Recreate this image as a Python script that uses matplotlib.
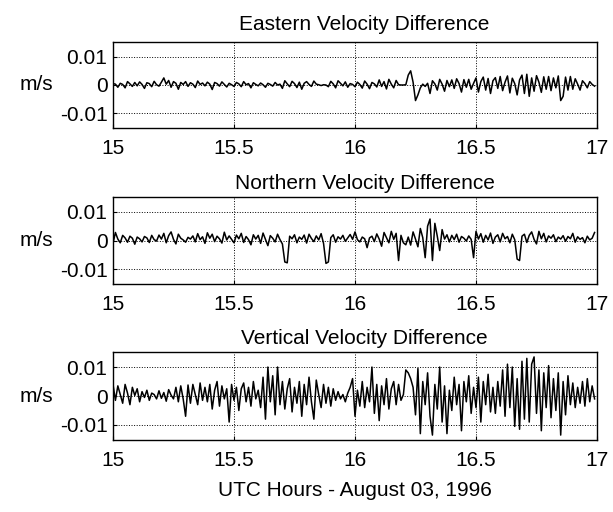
import numpy as np
import matplotlib
matplotlib.use("Agg")
import matplotlib.pyplot as plt

plt.rcParams['font.family'] = ['Liberation Sans', 'DejaVu Sans']

titles = ["Eastern Velocity Difference", "Northern Velocity Difference", "Vertical Velocity Difference"]
xlabel_text = "UTC Hours - August 03, 1996"
ylabel_text = "m/s"
xticks = [15, 15.5, 16, 16.5, 17]
xtick_labels = ["15", "15.5", "16", "16.5", "17"]
yticks = [-0.01, 0, 0.01]
ytick_labels = ["-0.01", "0", "0.01"]

# velocity differences in mm/s, sampled every 0.01 h from 15.00 to 16.99
east_mm = [
    0.5, 0.3, -0.8, 0.6, 0.2, -1.0, 1.2, 0.4, -0.5, 0.9,
    -0.3, 1.1, 0.2, -1.2, 0.8, 0.5, -0.6, 1.3, 0.1, -0.4,
    1.0, 2.5, 0.3, 1.6, -0.8, 1.2, 0.6, -1.5, 0.9, 0.2,
    1.2, -0.5, 0.8, 0.3, -0.9, 1.4, 0.2, 0.7, -0.3, 1.0,
    0.3, -1.6, 0.9, 0.5, -0.4, 1.1, 0.2, -0.7, 0.6, 0.1,
    -0.5, 0.9, 0.4, -0.6, 1.2, 0.1, 0.5, -1.0, 0.8, 0.2,
    -0.3, 0.7, 0.1, -0.8, 0.6, 0.2, -0.4, 0.9, 0.0, 0.3,
    -1.2, 1.5, 0.4, -0.6, 1.3, 0.5, -0.9, 1.0, -1.5, 0.6,
    1.2, 0.2, -0.5, 1.4, 0.3, 0.1, -0.2, 0.1, 0.0, -0.6,
    1.3, 0.4, -1.0, 1.5, 0.6, -0.3, 1.1, -0.8, 0.5, 0.2,
    -0.6, 1.0, 0.2, -1.1, 1.4, 0.3, -1.3, 0.9, 0.4, -0.7,
    1.8, -0.5, 1.2, -1.4, 2.0, 0.3, -1.0, 1.6, 0.1, 0.0,
    0.0, 0.1, 3.5, 5.0, 1.0, -5.5, -3.5, -1.0, 0.3, -0.5,
    0.6, -3.0, 1.5, 0.4, -1.8, 2.0, 0.3, -2.2, 1.6, -0.6,
    1.8, -1.2, 2.2, 0.5, -2.5, 1.9, -0.8, 2.0, -1.5, 0.6,
    2.5, -2.5, 1.2, 2.8, -1.8, 2.3, -3.0, 1.5, 2.6, -1.2,
    3.0, -2.0, 1.0, 3.2, -2.8, 2.4, 0.5, -3.5, 1.8, 3.5,
    -3.0, 3.8, -4.0, 2.5, -2.2, 3.3, 1.0, -2.6, 2.9, -1.5,
    3.0, -2.0, 2.5, -1.0, 3.2, -5.5, -4.0, 2.8, -1.8, 3.0,
    -1.5, 2.2, 0.3, -1.8, 1.5, 0.5, -1.0, 1.2, 0.2, -0.4,
]

north_mm = [
    -1.0, 2.8, 0.5, -0.8, 1.8, 0.9, -0.6, 1.5, 0.8, -1.3,
    1.2, 0.6, -0.5, 1.4, 0.9, -0.7, 1.8, 0.3, -0.2, 1.9,
    0.5, 2.5, -0.8, 1.7, 3.0, 0.4, -1.2, 2.2, 0.8, 0.2,
    -0.6, 1.1, 0.5, 1.6, -0.5, 2.4, 0.3, 1.3, -1.0, 2.7,
    0.8, 2.2, -0.4, 1.5, 0.6, -0.9, 2.9, 0.2, 1.6, 0.4,
    -0.8, 1.9, 0.6, 2.5, -0.7, 1.4, 0.3, -1.5, 2.0, 0.5,
    1.8, -1.0, 2.6, 0.4, -1.8, 1.7, 0.8, -0.5, 2.2, 0.3,
    -1.2, -7.5, -7.8, 1.5, 0.6, 2.0, -0.8, 1.2, 0.4, 1.9,
    -0.9, 2.2, 0.7, -0.4, 1.6, 0.2, 2.4, -1.0, -8.0, -7.5,
    1.0, 2.0, -0.6, 1.3, 0.5, 1.8, -0.3, 0.9, 2.1, 0.4,
    3.0, 0.3, -0.5, 1.2, 0.6, -2.5, 0.9, 1.5, -0.4, 2.3,
    0.5, -2.0, 2.8, 1.0, -0.8, 3.2, 0.4, 2.5, -7.0, 1.8,
    -0.8, -1.5, 1.2, -1.6, 3.0, 0.5, -2.2, 4.2, 1.0, -6.0,
    5.0, 7.5, -7.0, 6.0, 1.5, -3.5, 3.8, 0.5, 2.0, -0.5,
    1.8, 0.3, 2.2, -0.6, 1.4, 0.8, -0.2, 1.6, 0.4, -6.0,
    3.2, 0.5, 2.4, -0.6, 1.8, 0.2, 2.6, -1.0, 1.2, 2.0,
    -0.5, 2.5, 0.6, 1.4, -0.8, 2.2, 0.3, -6.5, -7.0, 1.5,
    2.2, -0.7, 1.8, 3.0, 0.4, -1.2, 3.2, 0.6, 2.5, -0.5,
    1.6, 0.8, 2.0, -0.4, 1.2, 0.5, 1.7, -0.3, 1.4, 0.6,
    2.5, -0.6, 1.3, 0.4, 1.0, -0.8, 1.5, 0.2, 0.8, 2.8,
]

vert_mm = [
    4.0, -1.5, 3.5, 0.5, -2.5, 4.0, 1.0, -3.0, 3.0, 0.2,
    2.5, -2.0, 1.5, -0.5, 2.0, -1.5, 1.0, 0.5, -1.0, 1.8,
    -0.8, 1.2, -1.8, 2.2, 0.3, -1.0, 3.0, -2.0, 3.5, -1.0,
    -7.0, 3.8, -2.5, 4.0, 0.5, -3.0, 4.5, -1.5, 3.0, -2.0,
    4.0, -4.5, 2.0, 5.0, -3.5, 3.5, -1.0, 2.5, -9.0, 4.0,
    -1.5, 3.0, -5.0, 2.5, 4.5, -2.0, 3.0, -3.5, 5.0, -1.0,
    2.0, -4.0, 6.5, -8.0, 10.0, -2.0, 7.0, -6.5, 10.0, -3.0,
    5.0, -4.5, 2.5, 6.0, -5.5, 3.0, -2.5, 5.0, -7.0, 4.0,
    -3.0, 6.5, -2.0, -8.0, 5.5, 0.5, -4.0, 4.0, -2.5, 3.0,
    -3.5, 2.5, -1.5, 1.5, -1.0, 0.5, -2.0, 1.0, 3.0, 6.0,
    -7.0, 2.0, -3.5, 5.0, -4.0, 3.0, -2.0, 10.0, -6.0, 4.0,
    -8.5, 3.5, -3.0, 6.0, -4.5, 2.5, 5.0, -3.0, 4.0, -1.5,
    0.5, 9.0, 8.0, 6.0, 3.0, -6.5, 9.5, -13.0, 5.0, -3.0,
    8.0, -7.0, -13.5, 4.0, -4.5, 10.0, -9.0, 3.5, -13.0, 2.0,
    -5.0, 6.5, -3.0, 4.0, -12.0, 5.0, -2.0, 7.0, -6.0, 3.0,
    -4.0, 6.5, -9.0, 5.0, -3.0, 7.5, -5.5, 3.0, -6.0, 5.0,
    -3.5, 9.0, -7.0, 11.0, -4.0, 10.0, -10.5, 6.0, -11.5, 12.0,
    -8.0, 13.0, -9.0, 11.0, 13.5, -6.0, 9.0, -12.0, 8.0, -4.0,
    10.5, -7.5, 6.0, -5.0, 8.0, -13.5, 5.0, -6.5, 7.0, -3.0,
    4.5, -4.0, 3.0, -2.5, 5.0, -3.5, 6.0, -2.0, 3.5, -1.0,
]

series = [east_mm, north_mm, vert_mm]
hours = 15 + 0.01 * np.arange(len(east_mm))

fig = plt.figure(figsize=(6.13, 5.12), dpi=100)
W, H = 613, 512
boxes = [(42, 128), (197, 284), (352, 440)]
title_pads = [9, 6, 6]
left_px, right_px = 113, 597
fs = 15

for (top, bot), title, vals, tp in zip(boxes, titles, series, title_pads):
    ax = fig.add_axes([left_px / W, 1 - bot / H, (right_px - left_px) / W, (bot - top) / H])
    ax.plot(hours, np.array(vals) * 1e-3, color='black', lw=1.1)
    ax.set_xlim(15, 17)
    ax.set_ylim(-0.0152, 0.0152)
    ax.set_xticks(xticks)
    ax.set_xticklabels(xtick_labels, fontsize=fs)
    ax.set_yticks(yticks)
    ax.set_yticklabels(ytick_labels, fontsize=fs)
    ax.tick_params(direction='in', length=3, width=0.8, pad=4)
    ax.tick_params(axis='x', pad=8)
    ax.grid(True, color='black', linestyle=':', linewidth=0.7)
    for s in ax.spines.values():
        s.set_linewidth(1.0)
        s.set_color('black')
    ax.set_title(title, fontsize=fs, pad=tp, x=0.52)
    zero_y = 1 - ((top + bot) / 2) / H
    fig.text(36 / W, zero_y, ylabel_text, fontsize=fs, ha='center', va='center')

fig.text(((left_px + right_px) / 2) / W, 1 - 490 / H, xlabel_text, fontsize=fs, ha='center', va='center')

fig.savefig("out.png", dpi=100)
